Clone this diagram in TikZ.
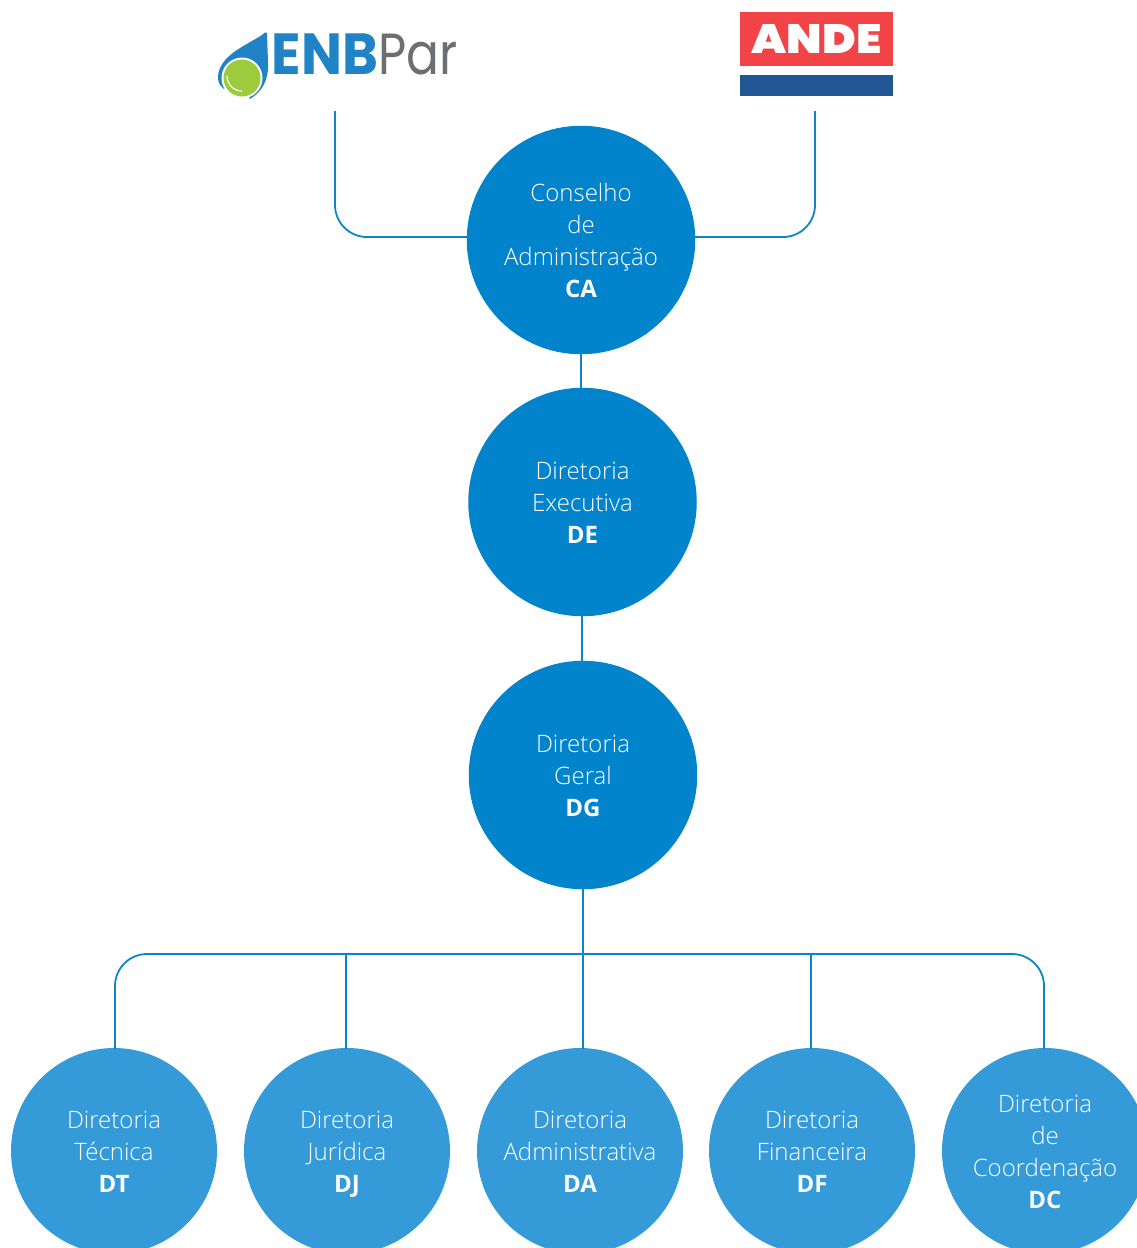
\documentclass[tikz,border=0pt]{standalone}
\usepackage{fontspec}
\setmainfont{Open Sans}[UprightFont={* Light},BoldFont={* Bold}]
\newfontfamily\logofont{Poppins}
\newfontfamily\andefont{Poppins Black}
\usetikzlibrary{shapes.geometric}
\definecolor{orgdark}{HTML}{0284CC}
\definecolor{orglight}{HTML}{349BD8}
\definecolor{orgline}{HTML}{0C86C8}
\definecolor{logoblue}{HTML}{1F83C6}
\definecolor{logogrey}{HTML}{6D6E71}
\definecolor{logogreen}{HTML}{9CCB3B}
\definecolor{andered}{HTML}{F24346}
\definecolor{andeblue}{HTML}{215695}
\tikzset{
  orgline/.style={draw=orgline, line width=1.8pt},
  orgtext/.style={circle, inner sep=0pt, text=white, align=center, font=\fontsize{24}{32}\selectfont},
}
\newcommand{\orgboard}[3] {\node at (#1) (#2) [orgtext, fill=orgdark, minimum size=228.5pt] {\rule{0pt}{25pt}#3\rule[-6pt]{0pt}{1pt}};}
\newcommand{\orgdept}[3] {\node at (#1) (#2) [orgtext, fill=orglight, minimum size=206pt] {\rule{0pt}{25pt}#3\rule[-6pt]{0pt}{1pt}};}
\newcommand{\orglink}[2] {\draw [orgline] (#1) -- (#2);}
\newcommand{\orgcorner}[3] {\draw [orgline, rounded corners=32pt] (#1) -- (#2) -- (#3);}

\begin{document}
\begin{tikzpicture}[x=1pt, y=-1pt]
\clip (0,0) rectangle (1137,1248);

% logos
\fill [logoblue] (267,33) .. controls (266,31) and (264,33) .. (262,35)
  .. controls (245,46) and (218,56) .. (218,78) .. controls (218,82) and (220,86) .. (224,89)
  -- (242,80) -- (250,99) .. controls (262,92) and (269,80) .. (268,62) -- cycle;
\fill [white] (242,78) circle (20.5);
\fill [logogreen] (242,78) circle (18.5);
\draw [white, line width=1.2pt] (227,76) arc (180:90:15);
\node at (364.5,54) (enb) [inner sep=0pt, font=\logofont\fontsize{58}{58}\selectfont] {\textcolor{logoblue}{\scalebox{.94}[1]{\textbf{ENB}}}\textcolor{logogrey}{\scalebox{.84}[1]{Par}}};
\node at (816.5,39) (andered) [fill=andered, minimum width=153pt, minimum height=54pt, inner sep=0pt, text=white, font=\andefont\fontsize{41}{41}\selectfont] {\scalebox{1.11}[1]{ANDE}};
\node at (816.5,85.5) (andeblue) [fill=andeblue, minimum width=153pt, minimum height=21pt, inner sep=0pt] {};

\orgboard {581,240}{ca}{Conselho\\de\\Administração\\\textbf{CA}}
\orgboard {582.5,502}{de}{Diretoria\\Executiva\\\textbf{DE}}
\orgboard {583,775}{dg}{Diretoria\\Geral\\\textbf{DG}}

\orgdept {114,1151}{dt}{Diretoria\\Técnica\\\textbf{DT}}
\orgdept {347,1151}{dj}{Diretoria\\Jurídica\\\textbf{DJ}}
\orgdept {580,1151}{da}{Diretoria\\Administrativa\\\textbf{DA}}
\orgdept {812,1151}{df}{Diretoria\\Financeira\\\textbf{DF}}
\orgdept {1045,1151}{dc}{Diretoria\\de\\Coordenação\\\textbf{DC}}

\coordinate (enbtop) at (335,111);
\coordinate (enbturn) at (335,237);
\coordinate (enbend) at (467.5,237);
\orgcorner {enbtop}{enbturn}{enbend}
\coordinate (andetop) at (815,111);
\coordinate (andeturn) at (815,237);
\coordinate (andeend) at (695,237);
\orgcorner {andetop}{andeturn}{andeend}

\orglink {ca.south}{ca.south |- de.north}
\coordinate (debottom) at (582,616);
\coordinate (dgtop) at (582,662);
\orglink {debottom}{dgtop}

\coordinate (busl) at (115,954);
\coordinate (busr) at (1044,954);
\coordinate (busj) at (346,954);
\coordinate (busf) at (811,954);
\coordinate (dttop) at (115,1049);
\coordinate (djtop) at (346,1049);
\coordinate (datop) at (583,1049);
\coordinate (dftop) at (811,1049);
\coordinate (dctop) at (1044,1049);
\draw [orgline, rounded corners=32pt] (dttop) -- (busl) -- (busr) -- (dctop);
\orglink {dg.south}{datop}
\orglink {djtop}{busj}
\orglink {dftop}{busf}

\end{tikzpicture}
\end{document}
